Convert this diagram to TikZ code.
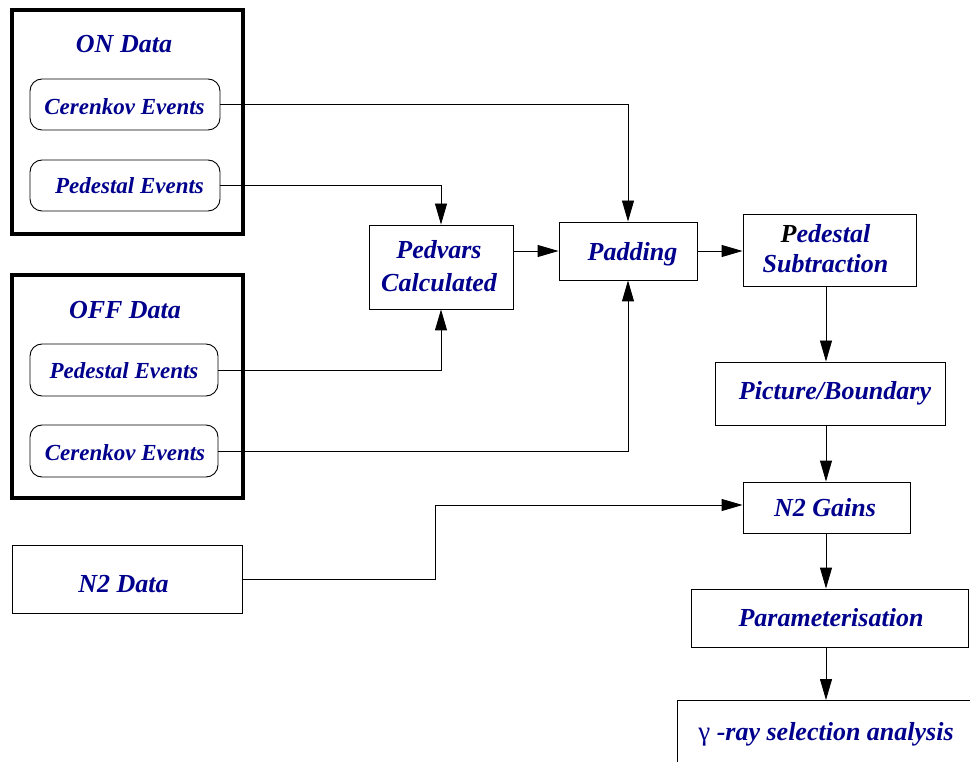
\documentclass[tikz,border=0pt]{standalone}
\usepackage{fontspec}
\setmainfont{Liberation Serif}
\usetikzlibrary{arrows.meta}
\definecolor{labelblue}{RGB}{0,0,140}
\begin{document}
\begin{tikzpicture}[x=1pt,y=-1pt,
  lbl/.style={font=\fontsize{26}{32}\selectfont\bfseries\itshape, text=labelblue, align=center, inner sep=0pt, anchor=base},
  evlbl/.style={font=\fontsize{23}{28}\selectfont\bfseries\itshape, text=labelblue, inner sep=0pt, anchor=base},
  group/.style={draw, line width=3.5pt},
  procbox/.style={draw, line width=0.9pt},
  evbox/.style={draw, line width=0.9pt, rounded corners=12pt},
  flow/.style={line width=0.9pt, -{Triangle[length=21pt,width=12pt]}}]
\useasboundingbox (0,0) rectangle (970,762);
\clip (0,0) rectangle (970,762);

% ON data group
\node[group, minimum width=231pt, minimum height=224pt] (onbox) at (127.5,122) {};
\node[lbl] (ontitle) at (124,53) {ON Data};
\node[evbox, minimum width=190pt, minimum height=51pt] (oncer) at (125,104.5) {};
\node[evlbl] (oncer-t) at (124.5,115) {Cerenkov Events};
\node[evbox, minimum width=190pt, minimum height=51pt] (onped) at (125,185.5) {};
\node[evlbl] (onped-t) at (129.5,194) {Pedestal Events};

% OFF data group
\node[group, minimum width=231pt, minimum height=223pt] (offbox) at (127.5,386.5) {};
\node[lbl] (offtitle) at (125,319) {OFF Data};
\node[evbox, minimum width=188pt, minimum height=52pt] (offped) at (124,370) {};
\node[evlbl] (offped-t) at (124,378) {Pedestal Events};
\node[evbox, minimum width=188pt, minimum height=52pt] (offcer) at (124,451) {};
\node[evlbl] (offcer-t) at (125,460) {Cerenkov Events};

% N2 data
\node[procbox, minimum width=230pt, minimum height=68pt] (n2data) at (127,579) {};
\node[lbl] (n2data-t) at (123.5,592) {N2 Data};

% processing chain (two-line labels are placed by their last baseline)
\node[procbox, minimum width=144pt, minimum height=84pt] (pedvars) at (441,267) {};
\node[lbl, font=\fontsize{26}{33}\selectfont\bfseries\itshape] (pedvars-t) at (439,292) {Pedvars\\Calculated};
\node[procbox, minimum width=138pt, minimum height=58pt] (padding) at (628,251) {};
\node[lbl] (padding-t) at (632.5,261) {Padding};
\node[procbox, minimum width=173pt, minimum height=72pt] (pedsub) at (829.5,250) {};
\node[lbl, font=\fontsize{26}{31}\selectfont\bfseries\itshape] (pedsub-t) at (825.5,273) {{\color{black}P}edestal\\Subtraction};
\node[procbox, minimum width=230pt, minimum height=63pt] (picture) at (830,393.5) {};
\node[lbl] (picture-t) at (835,399) {Picture/Boundary};
\node[procbox, minimum width=167pt, minimum height=51pt] (n2gains) at (826.5,507.5) {};
\node[lbl] (n2gains-t) at (825,516) {N2 Gains};
\node[procbox, minimum width=277pt, minimum height=58pt] (param) at (829.5,618) {};
\node[lbl] (param-t) at (831,626) {Parameterisation};
\node[procbox, minimum width=320pt, minimum height=80pt, anchor=north west] (gamma) at (677,700) {};
\node[lbl] (gamma-t) at (826,740) {{\mdseries\upshape\fontsize{27}{32}\selectfont γ} -ray selection analysis};

% column of the main chain
\coordinate (col) at (826,0);

% connectors
\draw[flow] (oncer.east) -| (padding.north);
\draw[flow] (onped.east) -| (pedvars.north);
\draw[flow] (offped.east) -| (pedvars.south);
\draw[flow] (offcer.east) -| (padding.south);
\draw[flow] (pedvars.east |- padding) -- (padding.west);
\draw[flow] (padding.east) -- (pedsub.west |- padding);
\draw[flow] (pedsub.south -| col) -- (picture.north -| col);
\draw[flow] (picture.south -| col) -- (n2gains.north -| col);
\coordinate (n2bend) at (435,505);
\draw[flow] (n2data.east) -| (n2bend) -- (n2gains.west |- n2bend);
\draw[flow] (n2gains.south -| col) -- (param.north -| col);
\draw[flow] (param.south -| col) -- (gamma.north -| col);
\end{tikzpicture}
\end{document}
